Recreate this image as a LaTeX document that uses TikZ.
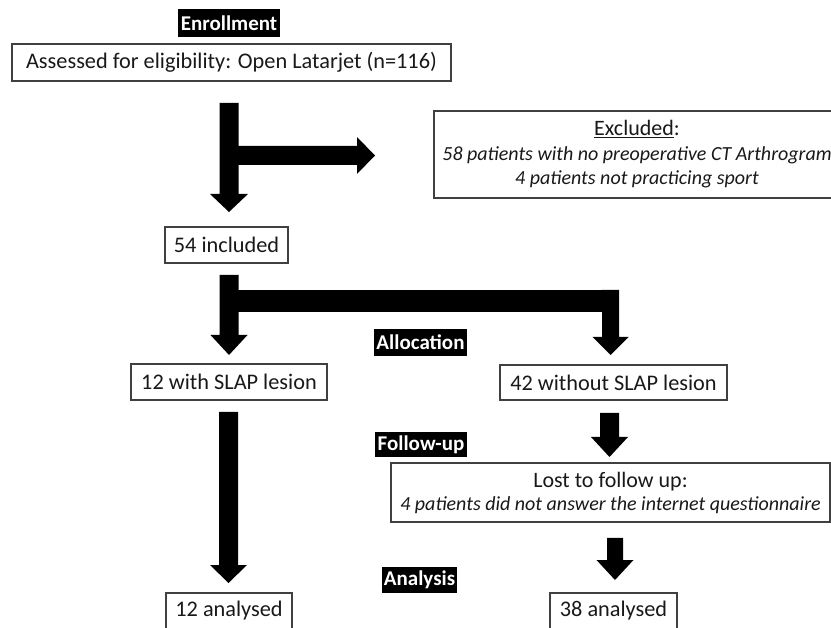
\documentclass[tikz,border=0pt]{standalone}
\usepackage{fontspec}
\setmainfont{Carlito}
\newcommand\blkdown[6]{% x, top, tip, half shaft, half head, head length
  \fill (#1-#4,#2) -- (#1+#4,#2) -- (#1+#4,#3-#6) -- (#1+#5,#3-#6) -- (#1,#3)
        -- (#1-#5,#3-#6) -- (#1-#4,#3-#6) -- cycle;}
\begin{document}
\begin{tikzpicture}[x=1pt,y=-1pt,
  box/.style={draw=black!75, line width=1.3pt, inner sep=0pt, text=black!90,
              font=\fontsize{22.3}{26}\selectfont},
  tag/.style={fill=black, text=white, inner sep=0pt,
              font=\bfseries\fontsize{21}{24}\selectfont}]
\useasboundingbox (0,0) rectangle (831,628);
\clip (0,0) rectangle (831,628);
\fill[white] (0,0) rectangle (831,628);

% labels
\node[tag, minimum width=102pt, minimum height=28pt] (enr) at (229,23) {Enrollment};
\node[tag, minimum width=93pt, minimum height=27pt] (alloc) at (420.5,342.5) {Allocation};
\node[tag, minimum width=92pt, minimum height=25pt] (fol) at (421,444.5) {Follow-up};
\node[tag, minimum width=75pt, minimum height=26pt] (ana) at (419.5,580) {Analysis};

% boxes
\node[box, minimum width=439pt, minimum height=37pt] (assess) at (231.5,62.5)
  {Assessed for eligibility: Open Latarjet (n=116)};
\node[box, minimum width=406pt, minimum height=87pt, align=center,
      font=\fontsize{20}{24.5}\selectfont] (excl) at (637,154.5)
  {{\fontsize{22}{24.5}\selectfont\underline{Excluded}:}\\
   {\itshape 58 patients with no preoperative CT Arthrogram}\\
   {\itshape 4 patients not practicing sport}};
\node[box, minimum width=123pt, minimum height=36pt] (inc) at (226.5,245) {54 included};
\node[box, minimum width=196pt, minimum height=36pt] (with) at (229,382) {12 with SLAP lesion};
\node[box, minimum width=227pt, minimum height=35pt] (without) at (613.5,382.5) {42 without SLAP lesion};
\node[box, minimum width=439pt, minimum height=59pt, align=center,
      font=\fontsize{20}{23}\selectfont] (lost) at (610.5,492.5)
  {{\fontsize{22}{23}\selectfont Lost to follow up:}\\
   {\itshape 4 patients did not answer the internet questionnaire}};
\node[box, minimum width=126pt, minimum height=36pt] (an12) at (229,611) {12 analysed};
\node[box, minimum width=127pt, minimum height=36pt] (an38) at (613.5,611) {38 analysed};

% block arrows
\blkdown{229}{103}{212}{9.5}{19}{18}
\fill (229,146) -- (357,146) -- (357,137) -- (375,155.5) -- (357,174) -- (357,165) -- (229,165) -- cycle;
\blkdown{229}{275}{355}{9.5}{18.5}{20}
\fill (220,290) rectangle (619,312);
\blkdown{610.5}{290}{355}{8.5}{18}{18}
\blkdown{228.5}{412}{583}{9.5}{18.5}{18}
\blkdown{609.5}{413}{457}{9.5}{18.5}{20}
\blkdown{615}{538}{580}{8}{18.5}{20}
\end{tikzpicture}
\end{document}
